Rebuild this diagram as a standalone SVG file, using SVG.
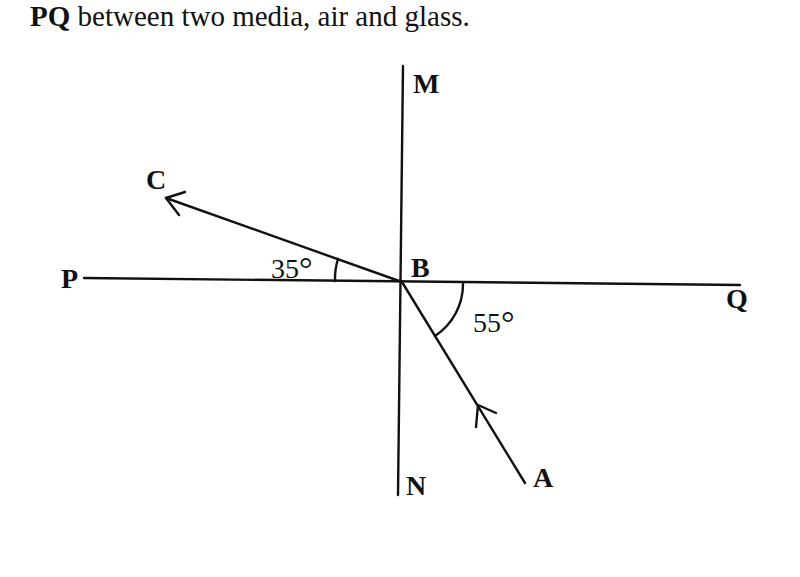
<svg xmlns="http://www.w3.org/2000/svg" width="800" height="577" viewBox="0 0 800 577">
<defs>
<style>
.t{font-family:"Liberation Serif","Times New Roman",serif;fill:#111;}
.b{font-weight:bold;}
.ln{stroke:#111;stroke-width:2.4;fill:none;stroke-linecap:round;}
.ar{stroke:#111;stroke-width:2.4;fill:none;stroke-linecap:round;stroke-linejoin:round;}
</style>
</defs>
<rect width="800" height="577" fill="#fff"/>
<text class="t" x="30" y="26" font-size="29"><tspan class="b">PQ</tspan> between two media, air and glass.</text>
<g id="lines">
<line id="PQ" class="ln" x1="84" y1="278" x2="740" y2="285"/>
<line id="MN" class="ln" x1="403" y1="66" x2="398" y2="495"/>
<line id="BC" class="ln" x1="402" y1="282" x2="166" y2="198"/>
<polyline class="ar" points="185,192 166,198 179,215"/>
<line id="AB" class="ln" x1="525" y1="483" x2="402" y2="282"/>
<polyline class="ar" points="496,413 478,405 476,427"/>
<path id="arc35" class="ln" d="M335,281 A67,67 0 0 1 338,259"/>
<path id="arc55" class="ln" d="M463,284 A62,62 0 0 1 435,336"/>
</g>
<g id="M"><text class="t b" x="413" y="93" font-size="28">M</text></g>
<g id="P"><text class="t b" x="61" y="288" font-size="28">P</text></g>
<g id="Q"><text class="t b" x="726" y="308" font-size="28">Q</text></g>
<g id="B"><text class="t b" x="411" y="277" font-size="28">B</text></g>
<g id="C"><text class="t b" x="146" y="189" font-size="28">C</text></g>
<g id="N"><text class="t b" x="406" y="495" font-size="28">N</text></g>
<g id="A"><text class="t b" x="533" y="487" font-size="28">A</text></g>
<g id="angle35"><text class="t" x="271" y="278" font-size="28">35<tspan font-size="34" dy="2">°</tspan></text></g>
<g id="angle55"><text class="t" x="473" y="332" font-size="28">55<tspan font-size="34" dy="2">°</tspan></text></g>
</svg>
